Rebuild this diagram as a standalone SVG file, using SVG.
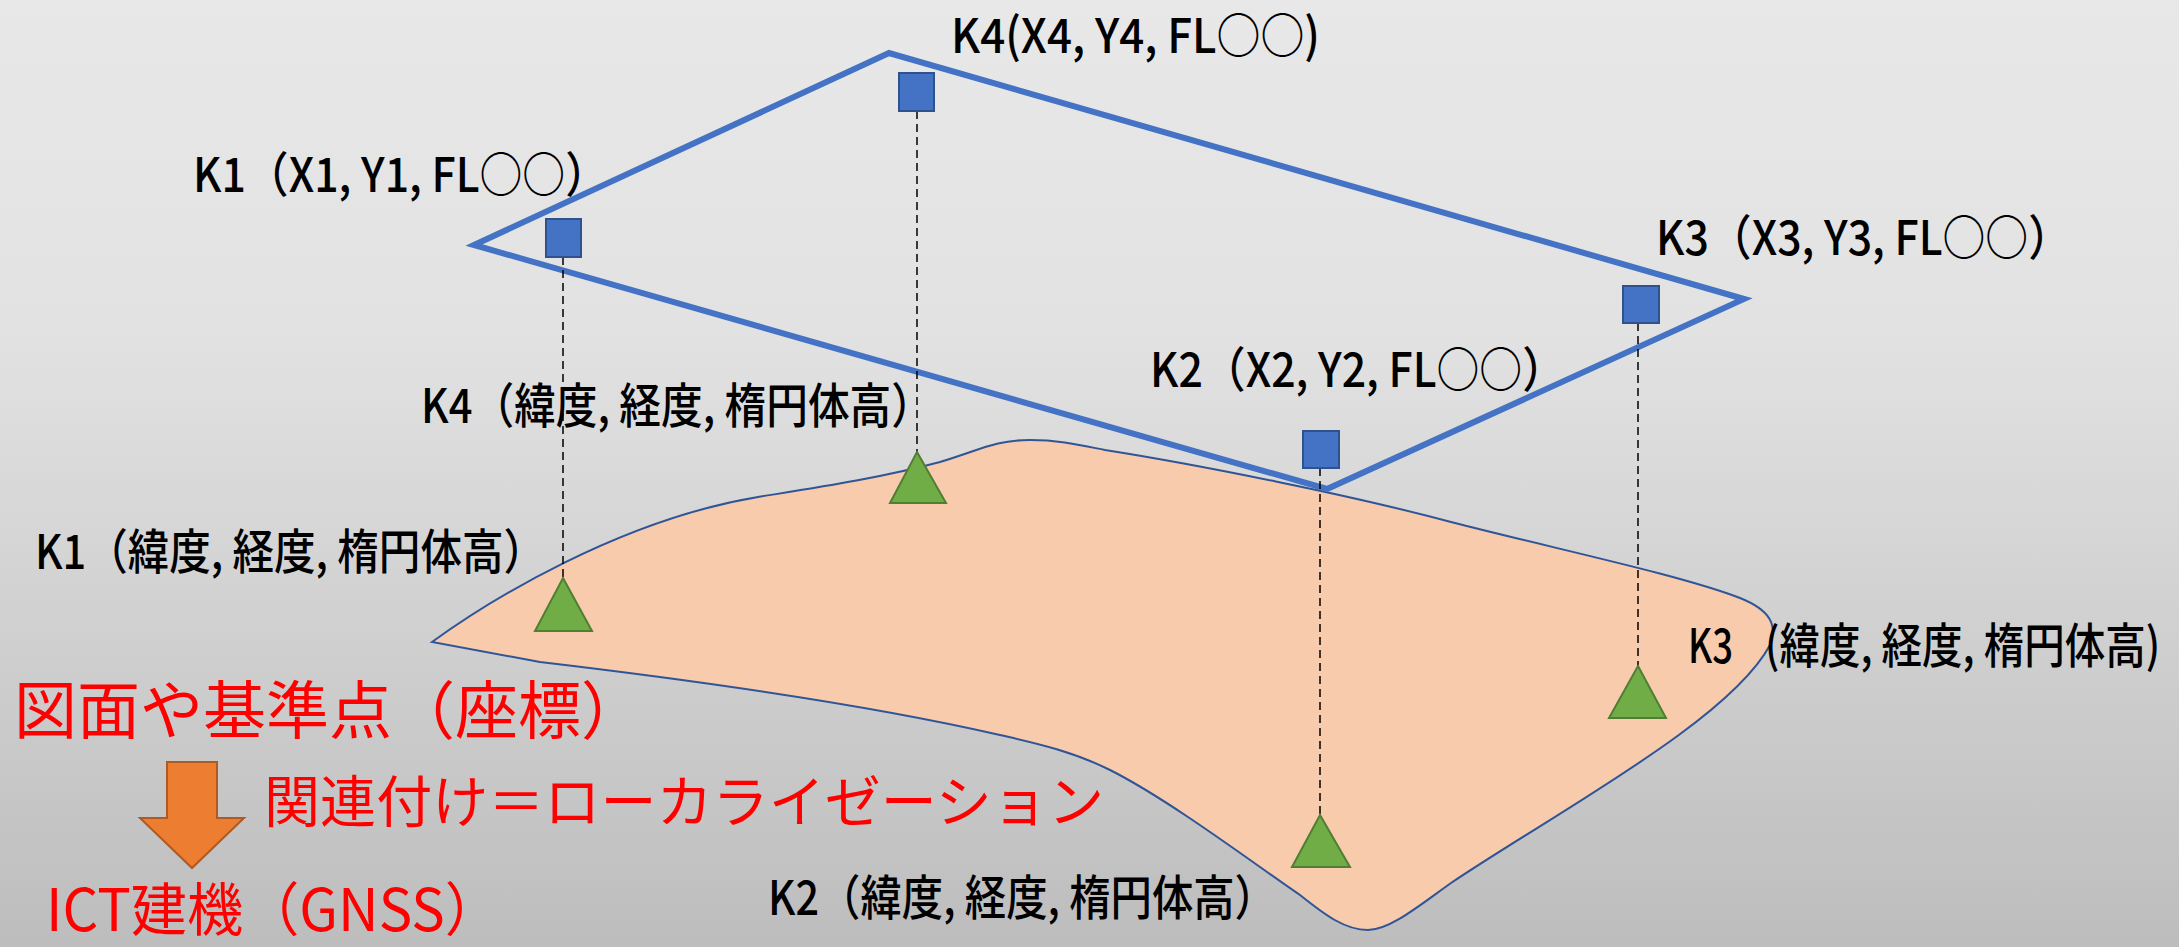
<svg xmlns="http://www.w3.org/2000/svg" width="2179" height="947" viewBox="0 0 2179 947">
<defs>
<linearGradient id="bg" x1="0" y1="0" x2="0" y2="1">
<stop offset="0" stop-color="#E8E8E8"/>
<stop offset="0.35" stop-color="#E2E2E2"/>
<stop offset="1" stop-color="#BDBDBD"/>
</linearGradient>
<style>
.lbl{font-family:"Noto Sans CJK JP","Liberation Sans",sans-serif;font-size:48px;font-weight:500;fill:#000}
.red{font-family:"Noto Sans CJK JP","Liberation Sans",sans-serif;fill:#FF0000}
.sq{fill:#4472C4;stroke:#2F528F;stroke-width:2}
.tri{fill:#70AD47;stroke:#507E32;stroke-width:2}
.dash{stroke:#000;stroke-width:1.5;stroke-dasharray:8 5;fill:none}
</style>
</defs>
<rect x="0" y="0" width="2179" height="947" fill="url(#bg)"/>
<g id="ground">
<path d="M432,642 C490,600 620,520 758,497 C820,487 880,478 940,462 C980,450 995,440 1030,440 C1060,440 1080,445 1105,450 C1200,465 1350,495 1451,522 C1560,550 1680,575 1740,598 C1770,610 1778,625 1770,645 C1730,720 1560,810 1451,883 C1420,905 1390,930 1368,930 C1345,930 1325,915 1300,895 C1260,868 1170,800 1110,770 C1070,750 1030,742 1000,735 C900,712 760,688 540,662 L432,642 Z" fill="#F8CBAD" stroke="#2F5597" stroke-width="2"/>
</g>
<g id="plane">
<polygon points="474,245 889,53 1744,299 1327,489" fill="none" stroke="#4472C4" stroke-width="6" stroke-linejoin="miter"/>
</g>
<g id="connectors">
<line class="dash" x1="563" y1="257" x2="563" y2="578"/>
<line class="dash" x1="917" y1="111" x2="917" y2="452"/>
<line class="dash" x1="1320" y1="468" x2="1320" y2="815"/>
<line class="dash" x1="1638" y1="323" x2="1638" y2="666"/>
</g>
<g id="K1-plan">
<rect class="sq" x="546" y="219" width="35" height="38"/>
<text class="lbl" x="193" y="192" textLength="415" lengthAdjust="spacingAndGlyphs">K1（X1, Y1, FL○○）</text>
</g>
<g id="K4-plan">
<rect class="sq" x="899" y="73" width="35" height="38"/>
<text class="lbl" x="951" y="53" textLength="369" lengthAdjust="spacingAndGlyphs">K4(X4, Y4, FL○○)</text>
</g>
<g id="K3-plan">
<rect class="sq" x="1623" y="286" width="36" height="37"/>
<text class="lbl" x="1656" y="255" textLength="415" lengthAdjust="spacingAndGlyphs">K3（X3, Y3, FL○○）</text>
</g>
<g id="K2-plan">
<rect class="sq" x="1303" y="431" width="36" height="37"/>
<text class="lbl" x="1150" y="387" textLength="415" lengthAdjust="spacingAndGlyphs">K2（X2, Y2, FL○○）</text>
</g>
<g id="K1-ground">
<polygon class="tri" points="563,578 592,631 535,631"/>
<text class="lbl" x="35" y="569" textLength="510" lengthAdjust="spacingAndGlyphs">K1（緯度, 経度, 楕円体高）</text>
</g>
<g id="K4-ground">
<polygon class="tri" points="917,452 946,503 890,503"/>
<text class="lbl" x="421" y="423" textLength="512" lengthAdjust="spacingAndGlyphs">K4（緯度, 経度, 楕円体高）</text>
</g>
<g id="K2-ground">
<polygon class="tri" points="1320,815 1350,867 1292,867"/>
<text class="lbl" x="768" y="915" textLength="508" lengthAdjust="spacingAndGlyphs">K2（緯度, 経度, 楕円体高）</text>
</g>
<g id="K3-ground">
<polygon class="tri" points="1638,666 1666,718 1609,718"/>
<text class="lbl" x="1688" y="663" textLength="45" lengthAdjust="spacingAndGlyphs">K3</text>
<text class="lbl" transform="translate(1765,663) scale(0.85,1)" x="0" y="0" textLength="465" lengthAdjust="spacingAndGlyphs">(緯度, 経度, 楕円体高)</text>
</g>
<g id="caption">
<text class="red" x="14" y="733" font-size="63" textLength="630" lengthAdjust="spacingAndGlyphs">図面や基準点（座標）</text>
<polygon points="167,762 217,762 217,818 244,818 192,868 140,818 167,818" fill="#ED7D31" stroke="#AE5A21" stroke-width="2"/>
<text class="red" x="264" y="822" font-size="56" textLength="840" lengthAdjust="spacingAndGlyphs">関連付け＝ローカライゼーション</text>
<text class="red" x="46" y="931" font-size="58" textLength="455" lengthAdjust="spacingAndGlyphs">ICT建機（GNSS）</text>
</g>
</svg>
